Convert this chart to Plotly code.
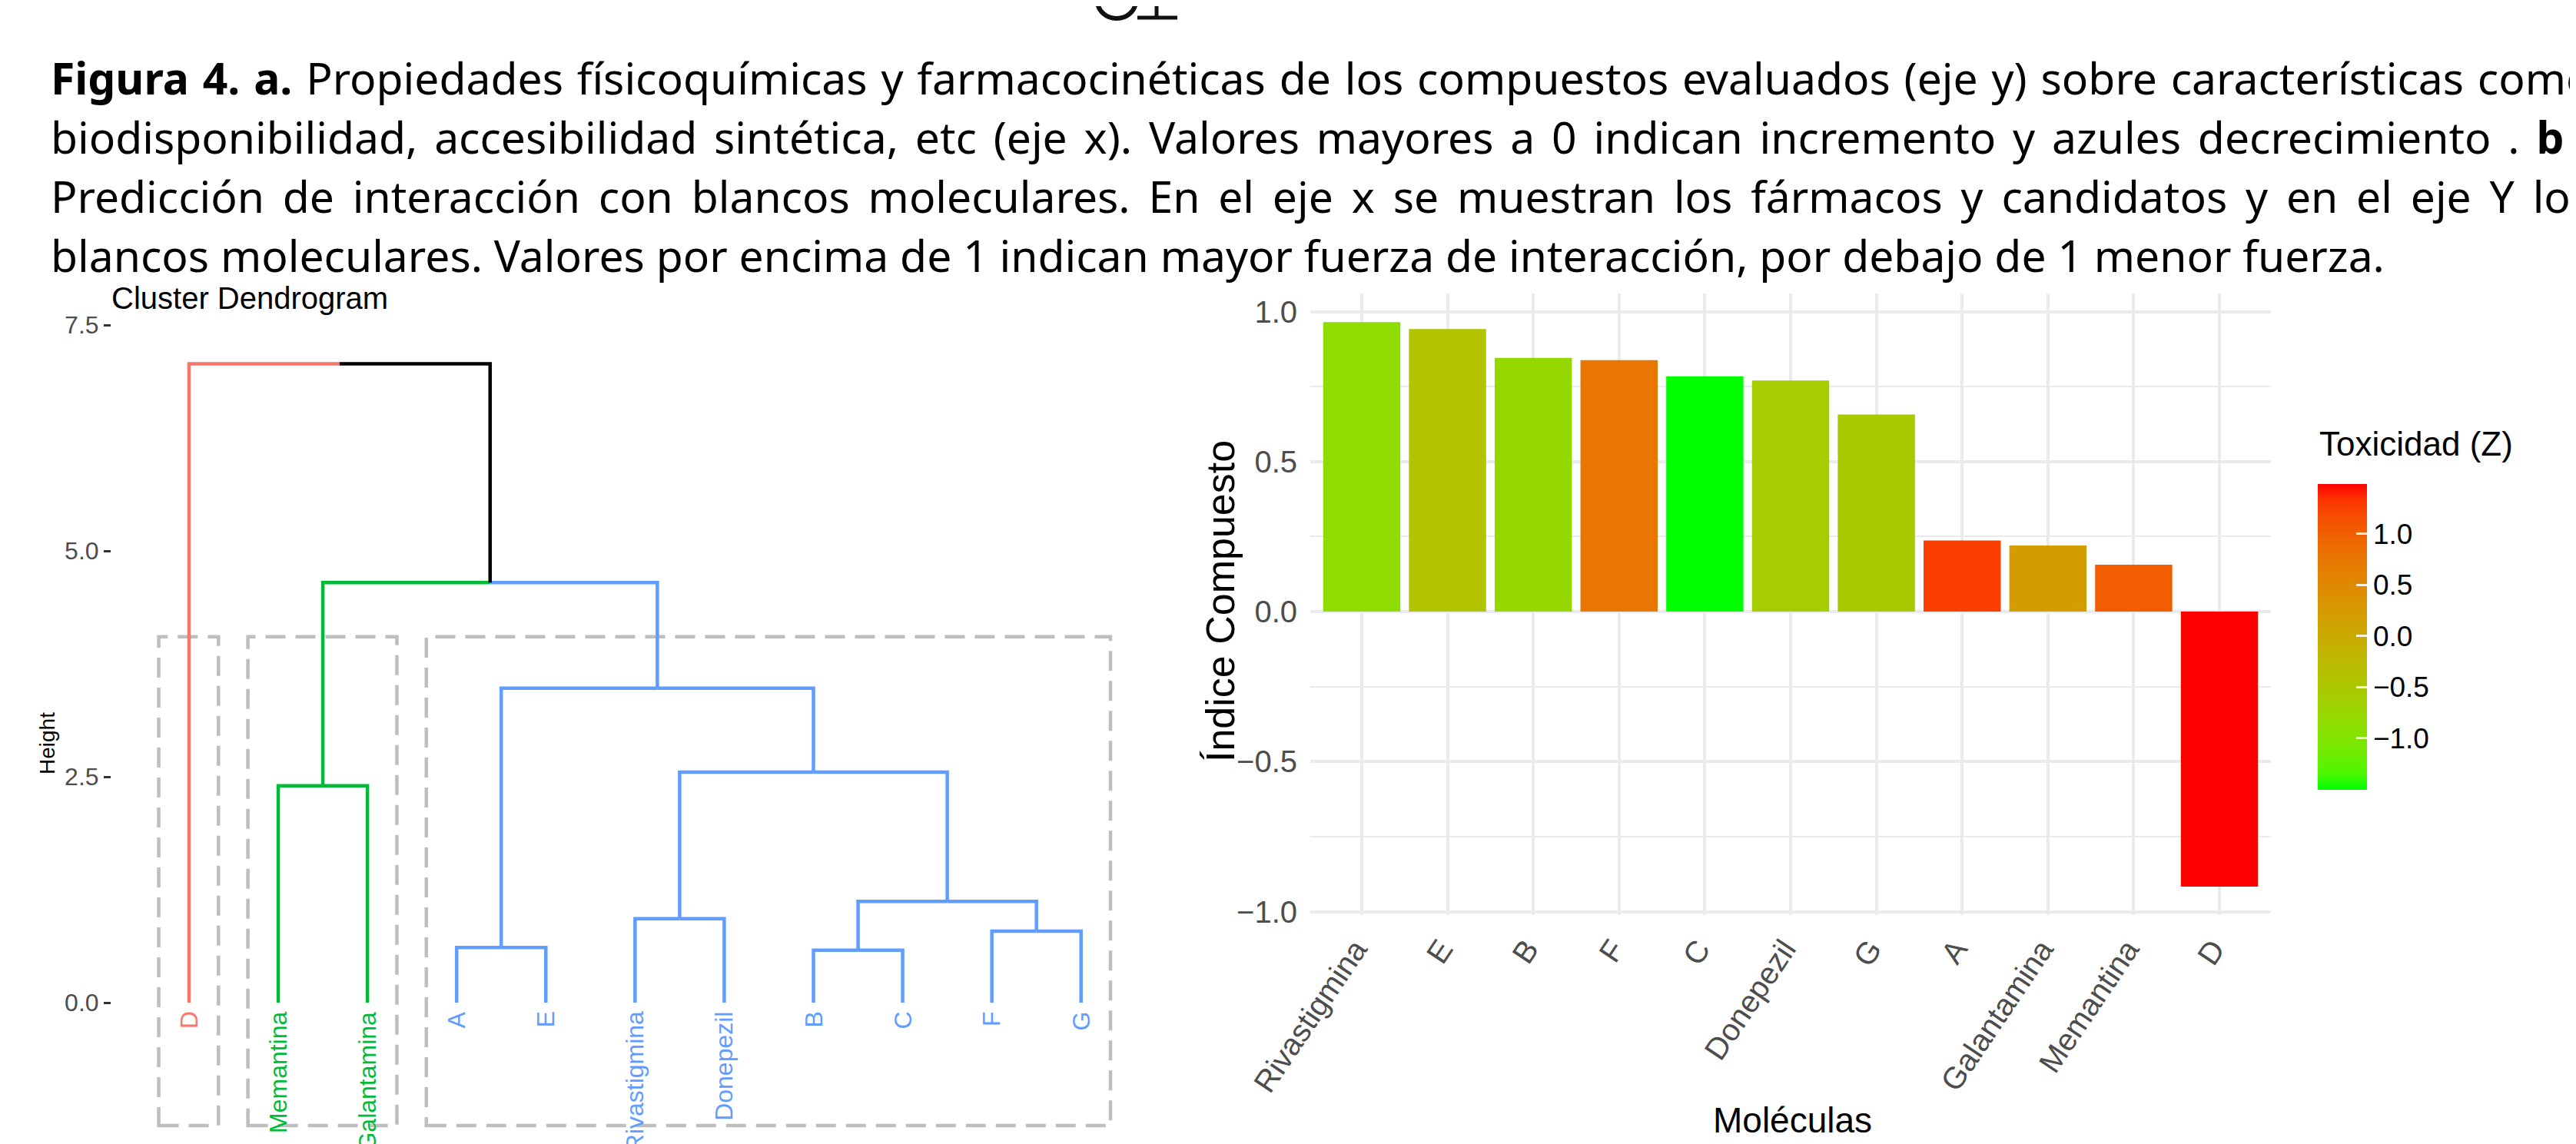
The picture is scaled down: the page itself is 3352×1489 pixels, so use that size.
import numpy as np
import plotly.graph_objects as go

W, H = 3352, 1489
OFF = 8  # the page body adds an 8px margin; positions below are screen pixels

# ---------------- caption ----------------
caption_lines = [
    "<b>Figura 4. a.</b> Propiedades físicoquímicas y farmacocinéticas de los compuestos evaluados (eje y) sobre características como",
    "biodisponibilidad, accesibilidad sintética, etc (eje x). Valores mayores a 0 indican incremento y azules decrecimiento . <b>b</b>",
    "Predicción de interacción con blancos moleculares. En el eje x se muestran los fármacos y candidatos y en el eje Y los",
    "blancos moleculares. Valores por encima de 1 indican mayor fuerza de interacción, por debajo de 1 menor fuerza.",
]
caption_word_spacing = [3, 7, 9, 0]   # justified text: extra px per space

# ---------------- dendrogram data ----------------
dendro_title = "Cluster Dendrogram"
leaves = ["D", "Memantina", "Galantamina", "A", "E", "Rivastigmina", "Donepezil", "B", "C", "F", "G"]
leaf_cluster = [1, 2, 2, 3, 3, 3, 3, 3, 3, 3, 3]
merge_left = ["A", "B", "F", "Rivastigmina", "m1", "Memantina", "m3", "m0", "m5", "D"]
merge_right = ["E", "C", "G", "Donepezil", "m2", "Galantamina", "m4", "m6", "m7", "m8"]
merge_height = [0.61, 0.58, 0.79, 0.93, 1.12, 2.40, 2.55, 3.48, 4.65, 7.07]
dendro_ticks = [0.0, 2.5, 5.0, 7.5]

# ---------------- bar chart data ----------------
molecules = ["Rivastigmina", "E", "B", "F", "C", "Donepezil", "G", "A", "Galantamina", "Memantina", "D"]
indice = [0.965, 0.942, 0.846, 0.838, 0.784, 0.770, 0.657, 0.237, 0.220, 0.156, -0.917]
toxicidad = [-0.85, -0.40, -0.78, 0.74, -1.50, -0.58, -0.54, 1.27, 0.21, 1.02, 1.49]
bar_ticks = [-1.0, -0.5, 0.0, 0.5, 1.0]
cb_ticks = [-1.0, -0.5, 0.0, 0.5, 1.0]

cluster_colors = {1: "#F8766D", 2: "#00BA38", 3: "#619CFF"}
FONT = "Liberation Sans"


def px_x(p):
    return (p - OFF) / W


def px_y(p):
    return 1 - (p - OFF) / H


# ---------- Lab interpolation (ggplot scale_fill_gradient green -> red) ----------
M = np.array([[0.4124, 0.3576, 0.1805], [0.2126, 0.7152, 0.0722], [0.0193, 0.1192, 0.9505]])
WHITE = np.array([0.95047, 1.0, 1.08883])


def to_lab(rgb):
    c = np.array(rgb) / 255.0
    lin = np.where(c <= 0.04045, c / 12.92, ((c + 0.055) / 1.055) ** 2.4)
    xyz = M @ lin / WHITE
    d = 6 / 29
    f = np.where(xyz > d ** 3, np.cbrt(xyz), xyz / (3 * d * d) + 4 / 29)
    return np.array([116 * f[1] - 16, 500 * (f[0] - f[1]), 200 * (f[1] - f[2])])


def from_lab(lab):
    L, a, b = lab
    fy = (L + 16) / 116
    fx = fy + a / 500
    fz = fy - b / 200
    d = 6 / 29
    f = np.array([fx, fy, fz])
    xyz = np.where(f > d, f ** 3, 3 * d * d * (f - 4 / 29)) * WHITE
    lin = np.linalg.inv(M) @ xyz
    lin = np.clip(lin, 0, 1)
    s = np.where(lin <= 0.0031308, 12.92 * lin, 1.055 * lin ** (1 / 2.4) - 0.055)
    r, g, bb = np.round(np.clip(s, 0, 1) * 255).astype(int)
    return f"rgb({r},{g},{bb})"


lab_lo, lab_hi = to_lab((0, 255, 0)), to_lab((255, 0, 0))
colorscale = [[t, from_lab(lab_lo + (lab_hi - lab_lo) * t)] for t in np.linspace(0, 1, 21)]

fig = go.Figure()

# ---------------- dendrogram ----------------
pos = {}
clus = {}
for i, name in enumerate(leaves):
    pos[name] = (i + 1.0, 0.0)
    clus[name] = leaf_cluster[i]
segs = {}
for k, (l, r, h) in enumerate(zip(merge_left, merge_right, merge_height)):
    node = f"m{k}"
    px = (pos[l][0] + pos[r][0]) / 2
    pos[node] = (px, h)
    clus[node] = clus[l] if clus[l] == clus[r] else None
    for child in (l, r):
        cx, ch = pos[child]
        col = cluster_colors.get(clus[child], "#000000")
        sx, sy = segs.setdefault(col, ([], []))
        sx += [cx, cx, px, None]
        sy += [ch, h, h, None]

for col, (sx, sy) in segs.items():
    fig.add_trace(go.Scatter(x=sx, y=sy, mode="lines", line=dict(color=col, width=4.5),
                             xaxis="x", yaxis="y", showlegend=False, hoverinfo="skip"))

# cluster rectangles
for c in sorted(set(leaf_cluster)):
    idx = [i + 1 for i, v in enumerate(leaf_cluster) if v == c]
    fig.add_shape(type="rect", xref="x", yref="y", x0=min(idx) - 0.34, x1=max(idx) + 0.33,
                  y0=-1.36, y1=4.05, line=dict(color="#BEBEBE", width=4.5, dash="26px,13px"),
                  layer="below")

for i, name in enumerate(leaves):
    fig.add_annotation(x=i + 1, y=-0.08, xref="x", yref="y", text=name, textangle=-90,
                       showarrow=False, xanchor="center", yanchor="top",
                       font=dict(family=FONT, size=32, color=cluster_colors[leaf_cluster[i]]))

# ---------------- bar chart ----------------
cmin, cmax = min(toxicidad), max(toxicidad)
CB_TOP, CB_LEN, CB_X = 629.5, 397.5, 3016
fig.add_trace(go.Bar(
    x=molecules, y=indice, xaxis="x2", yaxis="y2", showlegend=False,
    marker=dict(color=toxicidad, colorscale=colorscale, cmin=cmin, cmax=cmax, line=dict(width=0),
                showscale=True,
                colorbar=dict(x=px_x(CB_X), xanchor="left", y=px_y(CB_TOP), yanchor="top",
                              len=CB_LEN, lenmode="pixels", thickness=64, thicknessmode="pixels",
                              xpad=0, ypad=0, outlinewidth=0, tickvals=cb_ticks, tickformat=".1f",
                              ticks="inside", ticklen=14, tickwidth=2.5,
                              tickcolor="rgba(255,255,255,0.85)",
                              tickfont=dict(family=FONT, size=37, color="#000000"))),
))
for v in cb_ticks:
    yy = CB_TOP + (cmax - v) / (cmax - cmin) * CB_LEN
    fig.add_shape(type="line", xref="paper", yref="paper", x0=px_x(CB_X), x1=px_x(CB_X + 14),
                  y0=px_y(yy), y1=px_y(yy), line=dict(color="rgba(255,255,255,0.85)", width=2.5))

# small cut-off logo at the top edge (decoration)
fig.add_shape(type="circle", xref="paper", yref="paper", x0=px_x(1428), x1=px_x(1478),
              y0=px_y(24), y1=px_y(-22), line=dict(color="#111111", width=6))
fig.add_shape(type="line", xref="paper", yref="paper", x0=px_x(1453), x1=px_x(1453),
              y0=px_y(0), y1=px_y(7), line=dict(color="#111111", width=5))
fig.add_shape(type="line", xref="paper", yref="paper", x0=px_x(1480), x1=px_x(1532),
              y0=px_y(23), y1=px_y(23), line=dict(color="#111111", width=5))
fig.add_shape(type="line", xref="paper", yref="paper", x0=px_x(1505), x1=px_x(1505),
              y0=px_y(0), y1=px_y(23), line=dict(color="#111111", width=5))
fig.add_shape(type="line", xref="paper", yref="paper", x0=px_x(1505), x1=px_x(1528),
              y0=px_y(2), y1=px_y(2), line=dict(color="#111111", width=4))

# annotations: titles
ann = [
    dict(text="Toxicidad (Z)", x=3016, y=578, xanchor="left", yanchor="middle", size=44, angle=0),
    dict(text="Índice Compuesto", x=1588, y=783, xanchor="center", yanchor="middle", size=52, angle=-90),
    dict(text="Moléculas", x=2332, y=1458, xanchor="center", yanchor="middle", size=46, angle=0),
    dict(text="Height", x=62, y=968, xanchor="center", yanchor="middle", size=28, angle=-90),
    dict(text=dendro_title, x=143, y=388, xanchor="left", yanchor="middle", size=40, angle=0),
]
for a in ann:
    fig.add_annotation(text=a["text"], x=px_x(a["x"]), y=px_y(a["y"]), xref="paper", yref="paper",
                       xanchor=a["xanchor"], yanchor=a["yanchor"], textangle=a["angle"],
                       showarrow=False, font=dict(family=FONT, size=a["size"], color="#000000"))

cap_y = [101, 178, 255, 332]
for line, ws, yy in zip(caption_lines, caption_word_spacing, cap_y):
    fig.add_annotation(text=f"<span style='word-spacing:{ws}px'>{line}</span>",
                       x=px_x(64), y=px_y(yy), xref="paper", yref="paper",
                       xanchor="left", yanchor="middle", showarrow=False, align="left",
                       font=dict(family="Noto Sans", size=57, color="#000000"))

# ---------------- layout ----------------
lead_px, step_px = 246.0, 116.07
dx0, dx1 = 145.0, 1500.0
r0 = 1 - (lead_px - dx0) / step_px
r1 = r0 + (dx1 - dx0) / step_px
y0_px, unit_px, dtop, dbot = 1305.0, 117.6, 420.0, 1489.0

bx0, bx1, btop, bbot, bzero, bunit = 1705.0, 2955.0, 382.0, 1191.0, 796.0, 390.5

fig.update_layout(
    width=W, height=H, margin=dict(l=0, r=0, t=0, b=0, pad=0, autoexpand=False),
    paper_bgcolor="white", plot_bgcolor="white", bargap=0.1,
    xaxis=dict(domain=[px_x(dx0), px_x(dx1)], range=[r0, r1], visible=False, anchor="y",
               automargin=False),
    yaxis=dict(domain=[px_y(dbot), px_y(dtop)],
               range=[(y0_px - dbot) / unit_px, (y0_px - dtop) / unit_px],
               anchor="x", tickvals=dendro_ticks, tickformat=".1f", ticks="outside", ticklen=9,
               tickwidth=3, tickcolor="#333333", showgrid=False, zeroline=False, showline=False,
               automargin=False, tickfont=dict(family=FONT, size=32, color="#4D4D4D")),
    xaxis2=dict(domain=[px_x(bx0), px_x(bx1)], range=[-0.6, len(molecules) - 0.4], anchor="y2",
                type="category", showgrid=True, gridcolor="#EBEBEB", gridwidth=3.5, ticks="",
                tickangle=-56, zeroline=False, showline=False, automargin=False,
                ticklabelstandoff=12, ticklabelshift=-8,
                tickfont=dict(family=FONT, size=40, color="#4D4D4D")),
    yaxis2=dict(domain=[px_y(bbot), px_y(btop)],
                range=[-(bbot - bzero) / bunit, (bzero - btop) / bunit], anchor="x2",
                tickvals=bar_ticks, tickformat=".1f", showgrid=True, gridcolor="#EBEBEB", gridwidth=4,
                minor=dict(dtick=0.25, tick0=0, showgrid=True, gridcolor="#EBEBEB", gridwidth=2),
                zeroline=False, showline=False, ticks="", automargin=False, ticklabelstandoff=16,
                tickfont=dict(family=FONT, size=40, color="#4D4D4D")),
)

fig.write_html("out.html")
